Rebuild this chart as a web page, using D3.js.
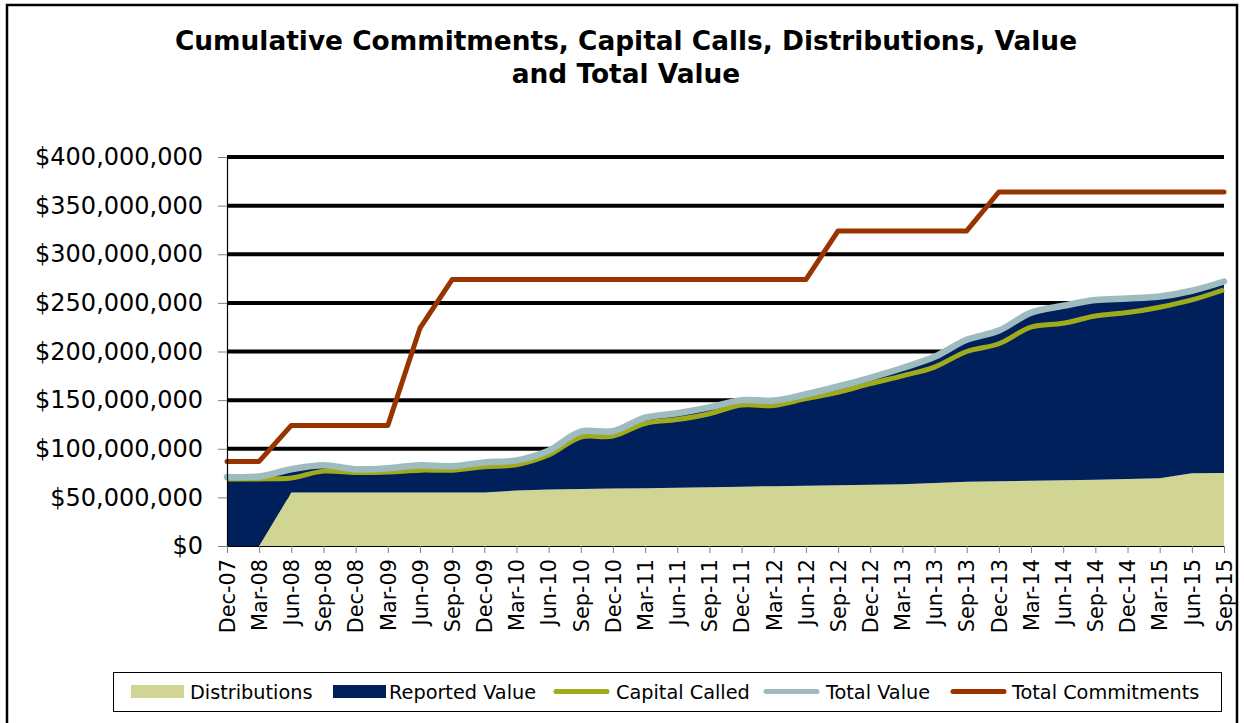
<!DOCTYPE html>
<html>
<head>
<meta charset="utf-8">
<script src="https://cdn.jsdelivr.net/npm/d3@7"></script>
<style>
  html, body { margin: 0; padding: 0; background: #fff; }
  svg { display: block; }
  text { font-family: "DejaVu Sans", Verdana, sans-serif; fill: #000; }
</style>
</head>
<body>
<svg id="chart" width="1244" height="723"></svg>
<script>
// ---- Data (values in $ millions) ----
const quarters = ["Dec-07","Mar-08","Jun-08","Sep-08","Dec-08","Mar-09","Jun-09","Sep-09","Dec-09","Mar-10","Jun-10","Sep-10","Dec-10","Mar-11","Jun-11","Sep-11","Dec-11","Mar-12","Jun-12","Sep-12","Dec-12","Mar-13","Jun-13","Sep-13","Dec-13","Mar-14","Jun-14","Sep-14","Dec-14","Mar-15","Jun-15","Sep-15"];

const distributions = [0, 0, 55, 55, 55, 55, 55, 55, 55, 57, 58, 58.6, 59, 59.5, 60, 60.5, 61, 61.5, 62, 62.5, 63, 63.5, 64.8, 66, 66.5, 67, 67.5, 68, 69, 69.6, 74.7, 75];

const reportedValue = [68, 68.5, 22, 26, 22.5, 23.5, 26.5, 25.5, 29.5, 29.5, 38.5, 57, 57.5, 70.5, 74.5, 80, 87, 86, 92, 99.5, 108, 117.5, 127.7, 144, 153, 171, 177.5, 183, 183.5, 184.9, 186, 195];

const capitalCalled = [69, 69, 70, 77, 75.5, 76, 78, 78, 81.5, 83.5, 93.5, 112, 113, 126, 130, 136, 145, 144.5, 151.5, 158, 167, 175, 184, 200, 208, 225, 229, 236.5, 240, 245.5, 253, 263.5];

const totalValue = [71, 71.5, 79, 83, 79, 80, 83, 82, 86, 88, 98, 117.5, 118, 132, 136.5, 142.5, 150, 149.5, 156, 164, 173, 183, 194.5, 212, 221.5, 240, 247, 253, 254.5, 256.5, 262.5, 272];

const totalCommitments = [87, 87, 124, 124, 124, 124, 224, 274, 274, 274, 274, 274, 274, 274, 274, 274, 274, 274, 274, 324, 324, 324, 324, 324, 364, 364, 364, 364, 364, 364, 364, 364];

const yTicks = [0, 50, 100, 150, 200, 250, 300, 350, 400];

const titleLines = ["Cumulative Commitments, Capital Calls, Distributions, Value", "and Total Value"];

const colors = {
  dist: "#d0d593",
  reported: "#00205b",
  called: "#9fab1a",
  total: "#9ebcc0",
  commit: "#993300"
};

// ---- Layout ----
const svg = d3.select("#chart");
const plotLeft = 227, plotRight = 1224, plotTop = 157, plotBottom = 546;

const x = d3.scalePoint().domain(quarters).range([plotLeft, plotRight]);
const y = d3.scaleLinear().domain([0, 400]).range([plotBottom, plotTop]);

// outer border
svg.append("rect")
  .attr("x", 7).attr("y", 5).attr("width", 1230).attr("height", 730)
  .attr("fill", "none").attr("stroke", "#000").attr("stroke-width", 2.5);

// title
svg.append("g").selectAll("text").data(titleLines).join("text")
  .attr("x", 626).attr("y", (d, i) => 50 + i * 33)
  .attr("text-anchor", "middle")
  .style("font-size", "26.4px").style("font-weight", "bold")
  .text(d => d);

// gridlines (behind series)
svg.append("g").selectAll("line").data(yTicks.filter(d => d > 0)).join("line")
  .attr("x1", plotLeft).attr("x2", plotRight)
  .attr("y1", d => y(d)).attr("y2", d => y(d))
  .attr("stroke", "#000").attr("stroke-width", 4);

// stacked areas
const rows = quarters.map((q, i) => ({ q, dist: distributions[i], rep: reportedValue[i] }));
const stack = d3.stack().keys(["dist", "rep"]);
const layers = stack(rows);
const area = d3.area()
  .x(d => x(d.data.q))
  .y0(d => y(d[0]))
  .y1(d => y(d[1]));

svg.append("g").selectAll("path").data(layers).join("path")
  .attr("d", area)
  .attr("fill", (d, i) => i === 0 ? colors.dist : colors.reported);

// lines
const smooth = d3.line().x((d, i) => x(quarters[i])).y(d => y(d)).curve(d3.curveCatmullRom.alpha(0.5));
const straight = d3.line().x((d, i) => x(quarters[i])).y(d => y(d));

svg.append("path").attr("d", smooth(capitalCalled))
  .attr("fill", "none").attr("stroke", colors.called).attr("stroke-width", 5)
  .attr("stroke-linejoin", "round");
svg.append("path").attr("d", smooth(totalValue))
  .attr("fill", "none").attr("stroke", colors.total).attr("stroke-width", 6.5)
  .attr("stroke-linejoin", "round").attr("stroke-linecap", "round");
svg.append("path").attr("d", straight(totalCommitments))
  .attr("fill", "none").attr("stroke", colors.commit).attr("stroke-width", 5)
  .attr("stroke-linejoin", "round").attr("stroke-linecap", "round");

// y axis
const yAxis = d3.axisLeft(y).tickValues(yTicks).tickSize(9).tickPadding(15)
  .tickFormat(d => "$" + d3.format(",")(d * 1e6));
const gy = svg.append("g").attr("transform", `translate(${plotLeft},0)`).call(yAxis);
gy.select(".domain").attr("stroke", "#000").attr("stroke-width", 1.2);
gy.selectAll(".tick line").attr("stroke", "#808080");
gy.selectAll(".tick text").style("font-size", "24px").style("font-family", "DejaVu Sans, Verdana, sans-serif").attr("fill", "#000");

// x axis
const xAxis = d3.axisBottom(x).tickSize(7).tickSizeOuter(0);
const gx = svg.append("g").attr("transform", `translate(0,${plotBottom})`).call(xAxis);
gx.select(".domain").attr("stroke", "#000").attr("stroke-width", 1.2);
gx.selectAll(".tick line").attr("stroke", "#808080");
gx.selectAll(".tick text")
  .style("font-size", "20.8px").style("font-family", "DejaVu Sans, Verdana, sans-serif").attr("fill", "#000")
  .attr("text-anchor", "end")
  .attr("transform", "rotate(-90)")
  .attr("x", -13).attr("y", 0).attr("dy", "0.35em");

// legend
const legendItems = [
  { name: "Distributions", color: colors.dist, type: "rect", sx: 131, tx: 190 },
  { name: "Reported Value", color: colors.reported, type: "rect", sx: 333, tx: 389 },
  { name: "Capital Called", color: colors.called, type: "line", sx: 553, tx: 616 },
  { name: "Total Value", color: colors.total, type: "line", sx: 763, tx: 826 },
  { name: "Total Commitments", color: colors.commit, type: "line", sx: 950, tx: 1012 }
];
svg.append("rect").attr("x", 113.5).attr("y", 672.5).attr("width", 1108).attr("height", 39)
  .attr("fill", "#fff").attr("stroke", "#000").attr("stroke-width", 1);
const lg = svg.append("g").selectAll("g").data(legendItems).join("g");
lg.filter(d => d.type === "rect").append("rect")
  .attr("x", d => d.sx).attr("y", 685).attr("width", 53).attr("height", 13)
  .attr("fill", d => d.color);
lg.filter(d => d.type === "line").append("line")
  .attr("x1", d => d.sx + 3).attr("x2", d => d.sx + 54).attr("y1", 691.5).attr("y2", 691.5)
  .attr("stroke", d => d.color).attr("stroke-width", 5).attr("stroke-linecap", "round");
lg.append("text").attr("x", d => d.tx).attr("y", 698.5)
  .style("font-size", "19.3px").text(d => d.name);
</script>
</body>
</html>
